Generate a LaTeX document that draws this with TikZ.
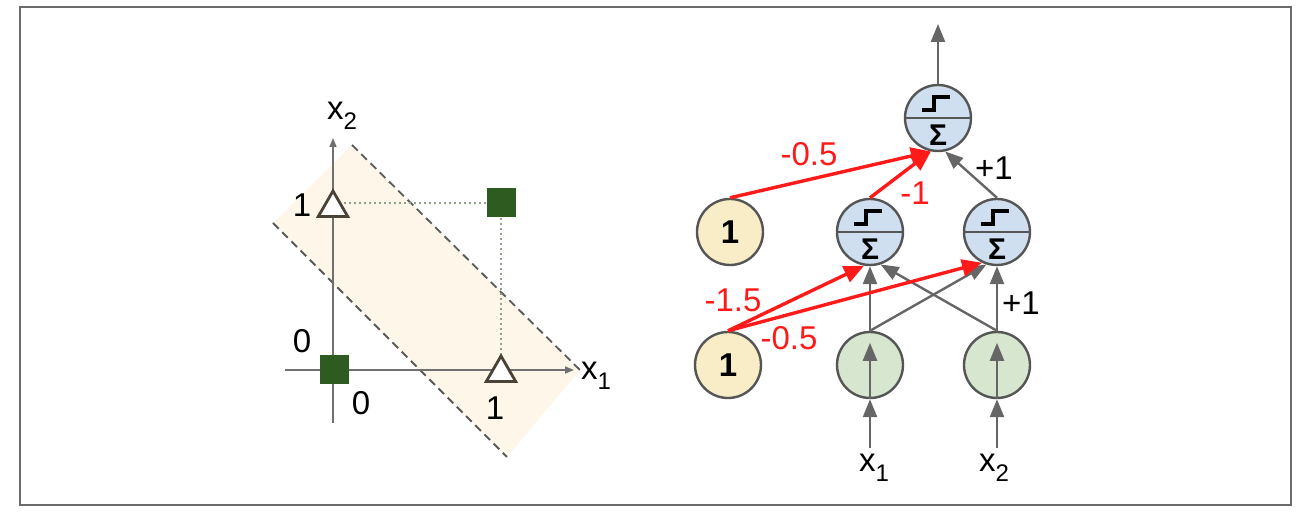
\documentclass[tikz,border=0pt]{standalone}
\usepackage{fontspec}
\setmainfont{Liberation Sans}
\usetikzlibrary{arrows.meta,calc,shapes.geometric}
\definecolor{framegray}{HTML}{6B6B6B}
\definecolor{axisgray}{HTML}{707070}
\definecolor{sqgreen}{HTML}{2E5B1F}
\definecolor{tribrown}{HTML}{4A4236}
\definecolor{bandfill}{HTML}{FDF6E9}
\definecolor{dashgray}{HTML}{5A5A5A}
\definecolor{dotgreen}{HTML}{8FA08A}
\definecolor{edgegray}{HTML}{666666}
\definecolor{nodeborder}{HTML}{555555}
\definecolor{sumfill}{HTML}{CFDFF0}
\definecolor{biasfill}{HTML}{F8EDC6}
\definecolor{infill}{HTML}{D6E6CF}
\definecolor{wred}{HTML}{FF1A1A}
\newcommand\subs[1]{\raisebox{-5pt}{\fontsize{12}{13}\selectfont #1}}
\newcommand\sumdeco[1]{%
  \draw[nodeborder, line width=0.9pt] (#1.west) -- (#1.east);
  \draw[black, line width=2.2pt] ($(#1)+(-16,-8)$) -- ++(12,0) -- ++(0,-13) -- ++(16,0);
  \node[font=\bfseries\fontsize{15}{16}\selectfont, inner sep=0pt] at ($(#1)+(0,17)$) {Σ};}
\begin{document}
\begin{tikzpicture}[x=0.5pt,y=-0.5pt,
  lbl/.style={font=\fontsize{16.5}{19}\selectfont, inner sep=0pt, anchor=base},
  redlbl/.style={lbl, text=wred},
  neuron/.style={circle, draw=nodeborder, line width=1.2pt, minimum size=33pt, inner sep=0pt},
  sumnode/.style={neuron, fill=sumfill},
  biasnode/.style={neuron, fill=biasfill, font=\bfseries\fontsize{16.5}{18}\selectfont},
  innode/.style={neuron, fill=infill},
  gedge/.style={draw=edgegray, line width=1.2pt, -{Triangle[length=9pt,width=7pt]}},
  redge/.style={draw=wred, line width=1.7pt, -{Triangle[length=10pt,width=8.5pt]}},
  axisline/.style={draw=axisgray, line width=0.8pt, -{Triangle[length=4.5pt,width=3.5pt]}},
  sepline/.style={draw=dashgray, line width=0.9pt, dash pattern=on 4pt off 2.5pt},
  dotline/.style={draw=dotgreen, line width=0.7pt, dash pattern=on 1pt off 1.5pt},
  sqmark/.style={rectangle, fill=sqgreen, minimum size=14.5pt, inner sep=0pt},
  trimark/.style={regular polygon, regular polygon sides=3, draw=tribrown, fill=white, line width=1.4pt, minimum size=17pt, inner sep=0pt}
]
\useasboundingbox (0,0) rectangle (1308,517);
\draw[framegray, line width=1pt] (19.5,7.5) rectangle (1290.5,505.5);

% ---------- left plot ----------
\fill[bandfill] (352,145) -- (580,370) -- (507,457) -- (273,223) -- cycle;
\draw[sepline] (352,145) -- (580,370);
\draw[sepline] (273,223) -- (507,457);
\coordinate (ax0) at (333,423);
\coordinate (ax1) at (333,138);
\coordinate (ay0) at (285,370);
\coordinate (ay1) at (574,370);
\draw[axisline] (ax0) -- (ax1);
\draw[axisline] (ay0) -- (ay1);
\node[trimark] (t01) at (333,208) {};
\node[trimark] (t10) at (501,373) {};
\node[sqmark] (s00) at (334,370) {};
\node[sqmark] (s11) at (501,203) {};
\draw[dotline] (t01.east |- s11) -- (s11.west);
\draw[dotline] (s11.south) -- (t10.north);
\node[lbl] (lx2) at (342,120) {x\subs{2}};
\node[lbl] (lx1) at (596,380) {x\subs{1}};
\node[lbl] (l1a) at (302,217) {1};
\node[lbl] (l0a) at (302,353) {0};
\node[lbl] (l0b) at (361,415) {0};
\node[lbl] (l1b) at (495,420) {1};

% ---------- right network ----------
\node[sumnode] (o) at (938,118) {};
\node[sumnode] (h1) at (870,232) {};
\node[sumnode] (h2) at (997,232) {};
\node[biasnode] (b1) at (730,232) {1};
\node[biasnode] (b2) at (728,365) {1};
\node[innode] (i1) at (870,365) {};
\node[innode] (i2) at (997,365) {};
\sumdeco{o}
\sumdeco{h1}
\sumdeco{h2}
\coordinate (out) at (938,24);
\coordinate (in1) at (870,448);
\coordinate (in2) at (997,448);

\draw[gedge] (o.north) -- (out);
\draw[gedge] (h2.north) -- (o.-78);
\draw[redge] (b1.north) -- (o.-102);
\draw[redge] (h1.north) -- (o.-102);
\draw[gedge] (i1.north) -- (h1.south);
\draw[gedge] (i1.north) -- (h2.-108);
\draw[gedge] (i2.north) -- (h1.-72);
\draw[gedge] (i2.north) -- (h2.south);
\draw[redge] (b2.north) -- (h1.-100);
\draw[redge] (b2.north) -- (h2.-116);
\draw[gedge, shorten >=6pt] (i1.south) -- (i1.north);
\draw[gedge, shorten >=6pt] (i2.south) -- (i2.north);
\draw[gedge] (in1) -- (i1.south);
\draw[gedge] (in2) -- (i2.south);

\node[redlbl] (w1) at (809,166) {-0.5};
\node[redlbl] (w2) at (915,205) {-1};
\node[lbl] (w3) at (994,180) {+1};
\node[redlbl] (w4) at (733,312) {-1.5};
\node[redlbl] (w5) at (789,350) {-0.5};
\node[lbl] (w6) at (1021,315) {+1};
\node[lbl] (nx1) at (874,472) {x\subs{1}};
\node[lbl] (nx2) at (994,472) {x\subs{2}};
\end{tikzpicture}
\end{document}
